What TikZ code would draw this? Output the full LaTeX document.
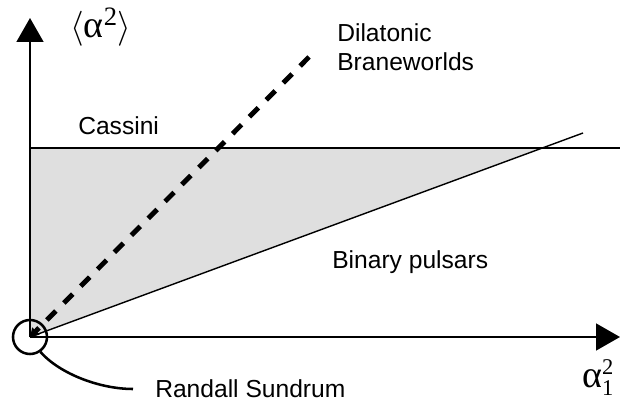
\documentclass[tikz,border=0pt]{standalone}
\usepackage{fontspec}
\setmainfont{Liberation Sans}
\newfontfamily\grkfont{Liberation Serif}
\usetikzlibrary{arrows.meta}
\tikzset{
  axis/.style={line width=1.5pt,-{Triangle[length=17pt,width=19pt]}},
  bound/.style={line width=1pt},
  lbl/.style={font=\fontsize{17.5}{21}\selectfont,inner sep=0pt},
  sym/.style={font=\fontsize{27}{30}\selectfont\grkfont,inner sep=0pt}
}
\begin{document}
\begin{tikzpicture}[x=0.025cm,y=0.025cm]
\useasboundingbox (0,0) rectangle (623,402);
% axes and bounds
\coordinate (O) at (30,65);
\coordinate (ytip) at (30,384);
\coordinate (xtip) at (620,65);
\coordinate (cl) at (30,254);
\coordinate (cr) at (620,254);
\coordinate (cx) at (542,254);
\coordinate (bp) at (583,269);
\coordinate (dil) at (309,345);
\fill[gray!25] (O) -- (cl) -- (cx) -- cycle;
\draw[bound] (cl) -- (cr);
\draw[bound] (O) -- (bp);
\draw[axis] (O) -- (ytip);
\draw[axis] (O) -- (xtip);
\draw[line width=3.5pt,dash pattern=on 9pt off 8pt,
  -{Triangle[length=6pt,width=7pt]}] (dil) -- (O);
% labels
\node[sym,anchor=base west] (yl) at (70,364) {\(\langle\)α\textsuperscript{2}\(\rangle\)};
\node[sym,anchor=base west] (xl) at (582,15) {α\(^{\mbox{\grkfont\fontsize{16}{16}\selectfont 2}}_{\mbox{\grkfont\fontsize{16}{16}\selectfont 1}}\)};
\node[lbl,anchor=base west] (cas) at (78,267) {Cassini};
\node[lbl,anchor=north west,align=left] (dbw) at (337,379) {Dilatonic\\Braneworlds};
\node[lbl,anchor=base west] (bin) at (332,134) {Binary pulsars};
% Randall Sundrum point
\node[circle,draw,line width=1.8pt,minimum size=0.85cm,inner sep=0pt] (rs) at (O) {};
\node[lbl,anchor=west,inner xsep=0.55cm] (rst) at (133,13) {Randall Sundrum};
\draw[line width=1.8pt] (rs.-55) .. controls (60,28) and (100,13) .. (rst.west);
\end{tikzpicture}
\end{document}
